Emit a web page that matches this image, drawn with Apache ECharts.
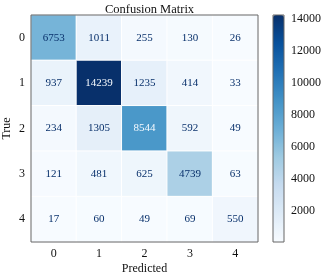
<!DOCTYPE html>
<html>
<head>
<meta charset="utf-8">
<script src="https://cdn.jsdelivr.net/npm/echarts@6/dist/echarts.min.js"></script>
<style>
html, body { margin: 0; padding: 0; background: #fff; }
#chart { width: 325px; height: 278px; }
</style>
</head>
<body>
<div id="chart"></div>
<script>
// confusion matrix values, rows = true class, cols = predicted class
var classes = ['0', '1', '2', '3', '4'];
var row0 = [6753, 1011, 255, 130, 26];
var row1 = [937, 14239, 1235, 414, 33];
var row2 = [234, 1305, 8544, 592, 49];
var row3 = [121, 481, 625, 4739, 63];
var row4 = [17, 60, 49, 69, 550];
var barTicks = [2000, 4000, 6000, 8000, 10000, 12000, 14000];

var rows = [row0, row1, row2, row3, row4];
var blues = ['#f7fbff', '#deebf7', '#c6dbef', '#9ecae1', '#6baed6', '#4292c6', '#2171b5', '#08519c', '#08306b'];
var font = 'Liberation Serif';

var vmin = Infinity, vmax = -Infinity;
rows.forEach(function (r) {
    r.forEach(function (v) {
        vmin = Math.min(vmin, v);
        vmax = Math.max(vmax, v);
    });
});
var thresh = (vmin + vmax) / 2;

var cells = [];
rows.forEach(function (r, i) {
    r.forEach(function (v, j) {
        cells.push({
            value: [j, i, v],
            label: { color: v > thresh ? '#f7fbff' : '#08306b' }
        });
    });
});

var myChart = echarts.init(document.getElementById('chart'));
var option = {
    animation: false,
    title: {
        text: 'Confusion Matrix',
        left: 144.5,
        textAlign: 'center',
        top: -2,
        textStyle: { fontFamily: font, fontSize: 12.5, fontWeight: 'normal', color: '#111' }
    },
    grid: [
        { left: 31, top: 15, width: 227, height: 227, show: true, borderColor: '#666', borderWidth: 1, z: 5, outerBoundsMode: 'none', containLabel: false },
        { left: 273, top: 15, width: 11, height: 227, show: true, borderColor: '#666', borderWidth: 1, backgroundColor: 'transparent', z: 10, outerBoundsMode: 'none', containLabel: false }
    ],
    xAxis: [
        {
            type: 'category', data: classes, gridIndex: 0,
            name: 'Predicted', nameLocation: 'middle', nameGap: 21, nameMoveOverlap: false,
            nameTextStyle: { fontFamily: font, fontSize: 12, color: '#111' },
            axisLine: { show: false },
            axisTick: { alignWithLabel: true, length: 4, lineStyle: { color: '#333' } },
            axisLabel: { fontFamily: font, fontSize: 12, color: '#111', margin: 6 },
            splitLine: { show: false }
        },
        { type: 'value', gridIndex: 1, show: false }
    ],
    yAxis: [
        {
            type: 'category', data: classes, gridIndex: 0, inverse: true,
            name: 'True', nameLocation: 'middle', nameGap: 18, nameMoveOverlap: false,
            nameTextStyle: { fontFamily: font, fontSize: 12, color: '#111' },
            axisLine: { show: false },
            axisTick: { alignWithLabel: true, length: 4, lineStyle: { color: '#333' } },
            axisLabel: { fontFamily: font, fontSize: 12, color: '#111', margin: 6 },
            splitLine: { show: false }
        },
        {
            type: 'value', gridIndex: 1, position: 'right',
            min: vmin, max: vmax,
            axisLine: { show: false },
            splitLine: { show: false },
            axisTick: { show: true, length: 3, customValues: barTicks, lineStyle: { color: '#333' } },
            axisLabel: {
                fontFamily: font, fontSize: 12, color: '#111', margin: 7, customValues: barTicks,
                formatter: function (v) { return String(v); }
            }
        }
    ],
    visualMap: {
        type: 'continuous',
        min: vmin, max: vmax,
        seriesIndex: 0,
        left: 273, top: 15,
        itemWidth: 11, itemHeight: 227,
        padding: 0,
        calculable: false,
        hoverLink: false,
        text: null,
        inRange: { color: blues }
    },
    series: [
        {
            type: 'heatmap',
            xAxisIndex: 0, yAxisIndex: 0,
            data: cells,
            itemStyle: { borderColor: '#fff', borderWidth: 1 },
            label: { show: true, fontFamily: font, fontSize: 11 }
        }
    ]
};
myChart.setOption(option);
</script>
</body>
</html>
